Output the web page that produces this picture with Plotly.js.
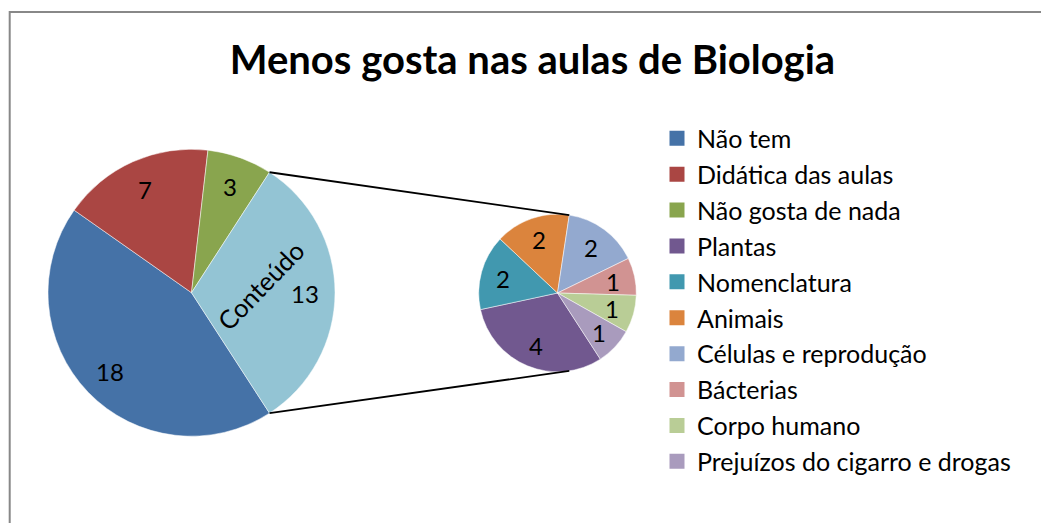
<!DOCTYPE html>
<html>
<head>
<meta charset="utf-8">
<script src="https://cdn.plot.ly/plotly-3.0.1.min.js"></script>
<style>html,body{margin:0;padding:0;background:#fff;}#chart{width:1041px;height:523px;}</style>
</head>
<body>
<div id="chart"></div>
<script>
// ---- data ----
const chartTitle = 'Menos gosta nas aulas de Biologia';
const mainLabels = ['Não tem', 'Didática das aulas', 'Não gosta de nada', 'Conteúdo'];
const mainValues = [18, 7, 3, 13];
const mainColors = ['#4572A7', '#AA4643', '#89A54E', '#93C4D4'];
const subLabels = ['Plantas', 'Nomenclatura', 'Animais', 'Células e reprodução', 'Bácterias', 'Corpo humano', 'Prejuízos do cigarro e drogas'];
const subValues = [4, 2, 2, 2, 1, 1, 1];
const subColors = ['#71588F', '#4198AF', '#DB843D', '#93A9CF', '#D19392', '#B9CD96', '#A99BBD'];

// ---- geometry ----
const W = 1041, H = 523;
const FONT = 'Lato, sans-serif';
const mainC = {x: 191.5, y: 292.7, r: 143.5};
const subC = {x: 557.5, y: 293, r: 78.8};
function dom(c) {
  return {
    x: [(c.x - c.r) / W, (c.x + c.r) / W],
    y: [(H - c.y - c.r) / H, (H - c.y + c.r) / H]
  };
}
const sum = a => a.reduce((p, q) => p + q, 0);
const mainTotal = sum(mainValues);
const otherVal = mainValues[mainValues.length - 1];
// "Conteúdo" slice centred at 3 o'clock
const rot = 90 + 180 * otherVal / mainTotal;
const startOther = rot - 360 * otherVal / mainTotal;
const endOther = rot;
function pt(c, ang, f) {
  const a = ang * Math.PI / 180; f = f || 1;
  return {x: (c.x + c.r * f * Math.sin(a)) / W, y: (H - (c.y - c.r * f * Math.cos(a))) / H};
}
const connA = 8.6;
const m1 = pt(mainC, startOther), m2 = pt(mainC, endOther);
const s1 = pt(subC, connA), s2 = pt(subC, 180 - connA);

// value labels placed at each slice's mid-angle
function valueLabels(vals, c, f) {
  const tot = sum(vals);
  let acc = 0;
  return vals.map(v => {
    const mid = rot + 360 * (acc + v / 2) / tot;
    acc += v;
    const p = pt(c, mid, f);
    return {xref: 'paper', yref: 'paper', x: p.x, y: p.y, xanchor: 'center', yanchor: 'middle',
            height: 22, valign: 'middle', borderpad: 0,
            text: String(v), showarrow: false, font: {family: FONT, size: 24, color: '#000'}};
  });
}

const traces = [
  {
    type: 'pie', labels: mainLabels, values: mainValues, sort: false,
    direction: 'clockwise', rotation: rot, domain: dom(mainC),
    marker: {colors: mainColors, line: {color: '#ffffff', width: 0.5}},
    textinfo: 'none', showlegend: false, hoverinfo: 'label+value'
  },
  {
    type: 'pie', labels: subLabels, values: subValues, sort: false,
    direction: 'clockwise', rotation: rot, domain: dom(subC),
    marker: {colors: subColors, line: {color: '#ffffff', width: 0.5}},
    textinfo: 'none', showlegend: false, hoverinfo: 'label+value'
  }
];
const legLabels = mainLabels.slice(0, 3).concat(subLabels);
const legColors = mainColors.slice(0, 3).concat(subColors);
legLabels.forEach((l, i) => {
  traces.push({
    type: 'scatter', mode: 'markers', x: [null], y: [null], name: l,
    legendgroup: 'g' + i,
    marker: {symbol: 'square', size: 15, color: legColors[i]},
    hoverinfo: 'skip'
  });
});

const labAng = 84;
const cl = pt(mainC, labAng, 0.48);
const annotations = valueLabels(mainValues, mainC, 0.79)
  .concat(valueLabels(subValues, subC, 0.72))
  .concat([{xref: 'paper', yref: 'paper', x: cl.x, y: cl.y, xanchor: 'center', yanchor: 'middle',
            text: mainLabels[3], textangle: -46, showarrow: false,
            font: {family: FONT, size: 25.5, color: '#000'}}]);

const layout = {
  width: W, height: H,
  margin: {l: 0, r: 0, t: 0, b: 0},
  paper_bgcolor: '#fff', plot_bgcolor: '#fff',
  title: {text: '<b>' + chartTitle + '</b>', x: 0.5115, xanchor: 'center', y: 1 - 59.5 / H, yanchor: 'middle',
          font: {family: FONT, size: 40, color: '#000'}},
  xaxis: {visible: false, range: [0, 1]},
  yaxis: {visible: false, range: [0, 1]},
  showlegend: true,
  legend: {x: 657 / W, xanchor: 'left', y: 1 - 115.5 / H, yanchor: 'top',
           font: {family: FONT, size: 25, color: '#000'},
           tracegroupgap: 0.4, bgcolor: 'rgba(0,0,0,0)', itemclick: false, itemdoubleclick: false},
  shapes: [
    {type: 'rect', xref: 'paper', yref: 'paper', x0: 9.7 / W, x1: 1.05, y0: -0.05, y1: 1 - 12 / H,
     line: {color: '#888888', width: 2}, fillcolor: 'rgba(0,0,0,0)'},
    {type: 'line', xref: 'paper', yref: 'paper', x0: m1.x, y0: m1.y, x1: s1.x, y1: s1.y, line: {color: '#000', width: 1.8}},
    {type: 'line', xref: 'paper', yref: 'paper', x0: m2.x, y0: m2.y, x1: s2.x, y1: s2.y, line: {color: '#000', width: 1.8}}
  ],
  annotations: annotations
};
Plotly.newPlot('chart', traces, layout, {displayModeBar: false, staticPlot: true});
</script>
</body>
</html>
